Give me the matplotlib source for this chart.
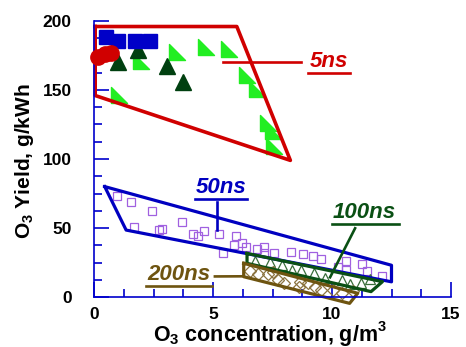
import numpy as np
import matplotlib
matplotlib.use("Agg")
import matplotlib.pyplot as plt
from matplotlib.path import Path

plt.rcParams['font.family'] = ['Liberation Sans', 'DejaVu Sans']
plt.rcParams['font.weight'] = 'bold'
plt.rcParams['mathtext.fontset'] = 'custom'
plt.rcParams['mathtext.rm'] = 'Liberation Sans:bold'
plt.rcParams['mathtext.it'] = 'Liberation Sans:bold'
plt.rcParams['mathtext.bf'] = 'Liberation Sans:bold'

# --- data ---
# 5 ns pulses
sq5_x = [0.50, 0.99, 1.72, 2.35]
sq5_y = [188.5, 185.5, 185.5, 185.5]
circ5_x = [0.18, 0.45, 0.70]
circ5_y = [174, 176, 176.5]
dtri5_x = [1.01, 1.86, 3.07, 3.73]
dtri5_y = [170.5, 178.8, 167.4, 155.6]
ltri5_x = [1.04, 1.97, 3.49, 4.69, 5.67, 6.44, 6.86, 7.32, 7.50, 7.55]
ltri5_y = [146.2, 171.2, 177.8, 181.4, 179.5, 160.9, 151.0, 126.0, 120.5, 109.6]

# 50 ns pulses
sq50_x = [0.95, 1.57, 2.43, 1.68, 2.75, 2.86, 3.70, 4.14, 4.35, 4.62, 5.25, 5.95,
          5.87, 6.22, 5.42, 6.40, 6.85, 7.15, 7.13, 7.55, 8.28, 8.80, 9.20, 9.53,
          10.25, 10.57, 10.60, 11.26, 11.47, 12.10]
sq50_y = [73.5, 69.0, 62.0, 51.0, 48.5, 49.5, 54.0, 45.5, 44.5, 47.5, 46.0, 44.5,
          38.0, 39.0, 32.0, 36.5, 34.5, 36.5, 32.0, 32.0, 32.5, 31.0, 30.0, 27.5,
          21.5, 26.0, 19.5, 24.0, 19.0, 15.5]

# 100 ns pulses
tri100_x = [6.75, 7.40, 7.90, 8.30, 8.70, 9.25, 9.70, 10.40, 10.75, 11.20, 11.60]
tri100_y = [26.0, 25.3, 23.0, 19.5, 19.5, 17.5, 14.0, 12.0, 9.5, 10.5, 13.0]

# 200 ns pulses
dia200_x = [6.55, 6.90, 7.30, 7.50, 7.75, 8.00, 8.60, 8.65, 9.00, 9.30, 9.55, 10.05, 10.40, 10.90]
dia200_y = [19.0, 17.0, 16.5, 18.0, 12.5, 10.5, 7.5, 11.0, 10.0, 7.5, 5.0, 5.0, 3.0, 4.0]

# envelopes around each group
env5_x = [0.05, 6.0, 8.25, 0.05, 0.05]
env5_y = [196, 196, 99, 146, 196]
env50_x = [0.45, 12.5, 12.5, 1.35, 0.45]
env50_y = [80, 23, 11, 48.5, 80]
env100_x = [6.43, 12.12, 11.64, 6.43, 6.43]
env100_y = [31.6, 11.1, 3.9, 24.4, 31.6]
env200_x = [6.29, 11.08, 10.74, 6.29, 6.29]
env200_y = [24.4, 2.7, -4.6, 14.7, 24.4]

# labels: text position, underline, leader line
labels = ['5ns', '50ns', '100ns', '200ns']
label_xy = [(9.89, 170.3), (5.34, 79.5), (11.35, 61.2), (3.58, 16.5)]
underline_x = [(8.99, 10.76), (4.24, 6.44), (9.99, 12.82), (2.18, 4.97)]
underline_y = [162.0, 70.8, 52.7, 8.0]
leader_x = [(5.42, 8.70), (5.15, 5.15), (10.97, 9.92), (5.08, 6.29)]
leader_y = [(170.1, 170.1), (69.1, 48.6), (49.8, 14.3), (14.9, 15.0)]

red = '#d00000'
blue = '#0000c0'
dgreen = '#0a5014'
lgreen = '#22ee22'
brown = '#6e5410'
label_colors = [red, blue, dgreen, brown]

fig = plt.figure(figsize=(4.66, 3.47), dpi=100)
ax = fig.add_axes([94 / 466, 50 / 347, 357 / 466, 276 / 347])

rtri = Path([(-1, 1), (-1, -1), (1, -1), (-1, 1)], closed=True)

ax.plot(sq50_x, sq50_y, 's', ms=5.3, mfc='none', mec='#a060e0', mew=0.9, clip_on=False)
ax.plot(tri100_x, tri100_y, '^', ms=7.5, mfc='none', mec='#3a6e3a', mew=0.9, clip_on=False)
ax.plot(dia200_x, dia200_y, 'D', ms=6, mfc='none', mec='#8c7440', mew=0.9, clip_on=False)

ax.plot(ltri5_x, ltri5_y, marker=rtri, ls='none', ms=11, color=lgreen, clip_on=False)
ax.plot(dtri5_x, dtri5_y, '^', ms=12, color='#004010', clip_on=False)
ax.plot(sq5_x, sq5_y, 's', ms=10.5, color='#0000c8', clip_on=False)
ax.plot(circ5_x, circ5_y, 'o', ms=11, color=red, clip_on=False, zorder=5)

ax.plot(env5_x, env5_y, color=red, lw=2.6, clip_on=False)
ax.plot(env50_x, env50_y, color=blue, lw=2.3, clip_on=False)
ax.plot(env100_x, env100_y, color=dgreen, lw=2.3, clip_on=False)
ax.plot(env200_x, env200_y, color=brown, lw=2.3, clip_on=False)

for i in range(len(labels)):
    c = label_colors[i]
    ax.text(label_xy[i][0], label_xy[i][1], labels[i], color=c, fontsize=16,
            style='italic', weight='bold', ha='center', va='center')
    ax.plot(underline_x[i], [underline_y[i]] * 2, color=c, lw=1.9, clip_on=False)
    ax.plot(leader_x[i], leader_y[i], color=c, lw=1.9, clip_on=False)

ax.set_xlim(0, 15)
ax.set_ylim(0, 200)
ax.set_xticks([0, 5, 10, 15])
ax.set_xticks(np.arange(0, 15.01, 1.25), minor=True)
ax.set_yticks([0, 50, 100, 150, 200])
ax.set_yticks(np.arange(0, 200.1, 12.5), minor=True)

for s in ['top', 'right']:
    ax.spines[s].set_visible(False)
for s in ['left', 'bottom']:
    ax.spines[s].set_color('#0000cc')
    ax.spines[s].set_linewidth(1.2)

ax.tick_params(which='both', direction='in', color='#0000cc', width=1.2, labelsize=12.5)
ax.tick_params(which='major', length=11)
ax.tick_params(which='minor', length=6)
ax.tick_params(axis='y', pad=16)
ax.tick_params(axis='x', pad=7)

fig.text(25 / 466, 1 - 161 / 347, 'O$_3$ Yield, g/kWh', rotation=90,
         ha='center', va='center', fontsize=15, weight='bold')
# x label: superscript written as its own small text so the label stays low
xl = fig.text(265 / 466, 1 - 341 / 347, 'O$_3$ concentration, g/m',
              ha='center', va='baseline', fontsize=15.5, weight='bold')
ax.annotate('3', xy=(1, 1), xycoords=xl, xytext=(0.5, 2.5), textcoords='offset points',
            ha='left', va='top', fontsize=10.5, weight='bold', annotation_clip=False)

fig.savefig('out.png', dpi=100)
